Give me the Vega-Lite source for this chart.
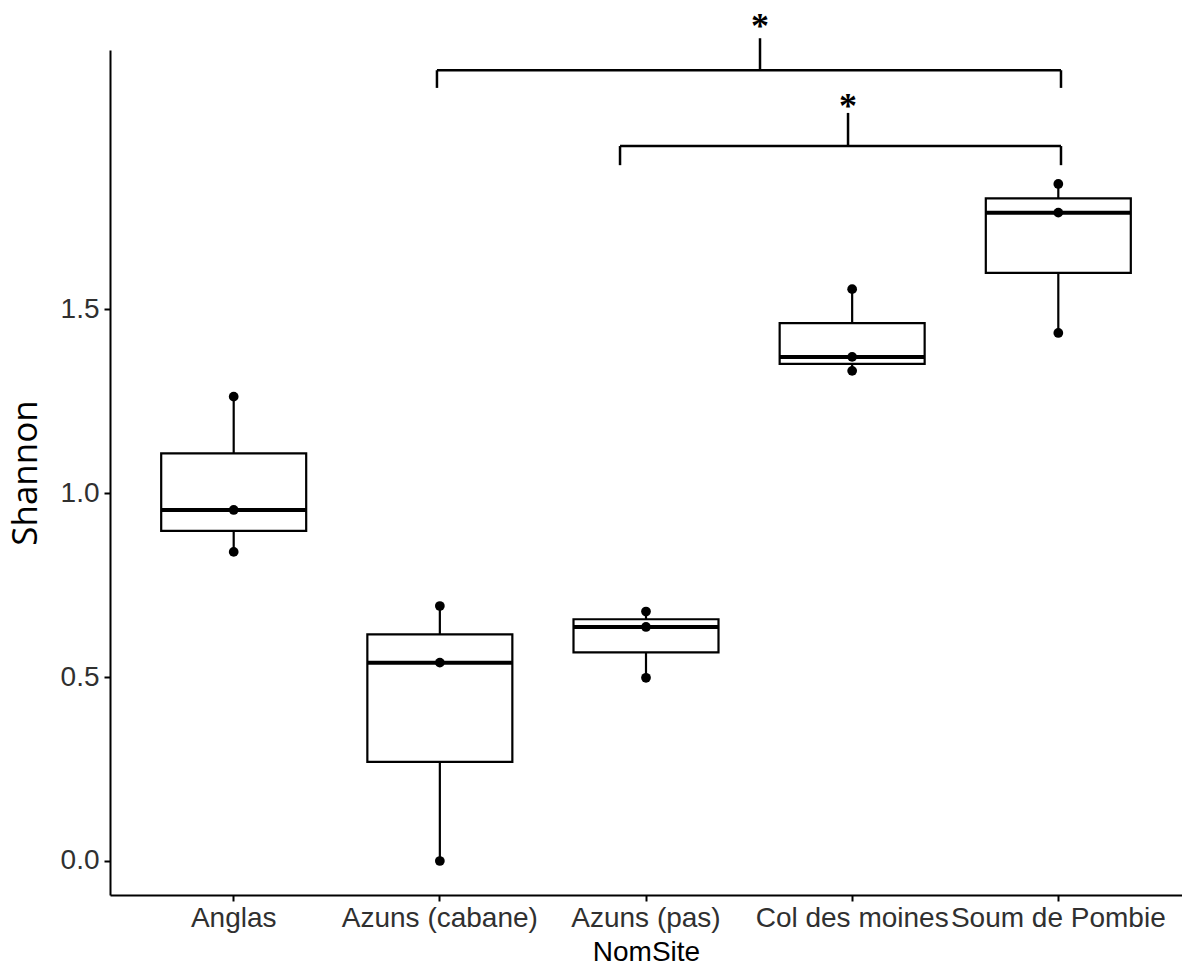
{
  "$schema": "https://vega.github.io/schema/vega-lite/v6.json",
  "width": 1072,
  "height": 845,
  "autosize": {"type": "none"},
  "padding": {"left": 110, "top": 50, "right": 0, "bottom": 73},
  "background": "white",
  "config": {
    "view": {"stroke": null},
    "axis": {
      "domainColor": "black",
      "domainWidth": 2,
      "tickColor": "black",
      "tickWidth": 2,
      "tickSize": 6,
      "grid": false,
      "labelFont": "Liberation Sans",
      "labelFontSize": 28,
      "labelColor": "#303030",
      "labelLimit": 0,
      "titleFont": "Liberation Sans",
      "titleFontSize": 28,
      "titleFontWeight": "normal",
      "titleColor": "black"
    }
  },
  "datasets": {
    "samples": [
      {"NomSite": "Anglas", "Shannon": 1.262},
      {"NomSite": "Anglas", "Shannon": 0.954},
      {"NomSite": "Anglas", "Shannon": 0.840},
      {"NomSite": "Azuns (cabane)", "Shannon": 0.693},
      {"NomSite": "Azuns (cabane)", "Shannon": 0.539},
      {"NomSite": "Azuns (cabane)", "Shannon": 0.0},
      {"NomSite": "Azuns (pas)", "Shannon": 0.678},
      {"NomSite": "Azuns (pas)", "Shannon": 0.636},
      {"NomSite": "Azuns (pas)", "Shannon": 0.498},
      {"NomSite": "Col des moines", "Shannon": 1.554},
      {"NomSite": "Col des moines", "Shannon": 1.370},
      {"NomSite": "Col des moines", "Shannon": 1.332},
      {"NomSite": "Soum de Pombie", "Shannon": 1.840},
      {"NomSite": "Soum de Pombie", "Shannon": 1.762},
      {"NomSite": "Soum de Pombie", "Shannon": 1.435}
    ],
    "brackets": [
      {"x": 1.986, "x2": 5.013, "y": 2.149, "y2": 2.149},
      {"x": 1.986, "x2": 1.986, "y": 2.149, "y2": 2.101},
      {"x": 5.013, "x2": 5.013, "y": 2.149, "y2": 2.101},
      {"x": 3.553, "x2": 3.553, "y": 2.149, "y2": 2.236},
      {"x": 2.874, "x2": 5.013, "y": 1.943, "y2": 1.943},
      {"x": 2.874, "x2": 2.874, "y": 1.943, "y2": 1.891},
      {"x": 5.013, "x2": 5.013, "y": 1.943, "y2": 1.891},
      {"x": 3.980, "x2": 3.980, "y": 1.943, "y2": 2.033}
    ],
    "stars": [
      {"x": 3.553, "y": 2.285, "label": "*"},
      {"x": 3.980, "y": 2.068, "label": "*"}
    ]
  },
  "layer": [
    {
      "data": {"name": "samples"},
      "layer": [
        {
          "mark": {
            "type": "boxplot",
            "extent": "min-max",
            "size": 145,
            "box": {"fill": "white", "stroke": "black", "strokeWidth": 2.2},
            "median": {"color": "black", "fill": "black", "opacity": 1, "thickness": 4},
            "rule": {"color": "black", "strokeWidth": 2.2},
            "ticks": false,
            "outliers": false
          },
          "encoding": {
            "x": {
              "field": "NomSite", "type": "nominal",
              "sort": ["Anglas", "Azuns (cabane)", "Azuns (pas)", "Col des moines", "Soum de Pombie"],
              "scale": {"type": "band", "paddingInner": 0, "paddingOuter": 0.1},
              "axis": {"labelAngle": 0, "labelPadding": 3, "titlePadding": 6, "title": "NomSite"}
            },
            "y": {
              "field": "Shannon", "type": "quantitative",
              "scale": {"domain": [-0.0924, 2.204], "nice": false, "zero": false},
              "axis": {
                "values": [0, 0.5, 1, 1.5],
                "format": ".1f",
                "labelPadding": 5,
                "title": "Shannon",
                "titleFont": "Open Sans",
                "titleFontSize": 35,
                "titlePadding": 17
              }
            }
          }
        },
        {
          "mark": {"type": "point", "filled": true, "size": 95, "color": "black", "opacity": 1},
          "encoding": {
            "x": {
              "field": "NomSite", "type": "nominal",
              "sort": ["Anglas", "Azuns (cabane)", "Azuns (pas)", "Col des moines", "Soum de Pombie"]
            },
            "y": {"field": "Shannon", "type": "quantitative"}
          }
        }
      ]
    },
    {
      "layer": [
        {
          "data": {"name": "brackets"},
          "mark": {"type": "rule", "color": "black", "strokeWidth": 2.5},
          "encoding": {
            "x": {"field": "x", "type": "quantitative", "scale": {"domain": [0.4, 5.6], "nice": false, "zero": false}, "axis": null},
            "x2": {"field": "x2"},
            "y": {"field": "y", "type": "quantitative", "scale": {"domain": [-0.0924, 2.204], "nice": false, "zero": false}},
            "y2": {"field": "y2"}
          }
        },
        {
          "data": {"name": "stars"},
          "mark": {"type": "text", "font": "Liberation Serif", "fontSize": 36, "fontWeight": "bold", "baseline": "middle", "align": "center", "color": "black", "dy": 7},
          "encoding": {
            "x": {"field": "x", "type": "quantitative"},
            "y": {"field": "y", "type": "quantitative"},
            "text": {"field": "label"}
          }
        }
      ]
    }
  ],
  "resolve": {"scale": {"x": "independent"}}
}
